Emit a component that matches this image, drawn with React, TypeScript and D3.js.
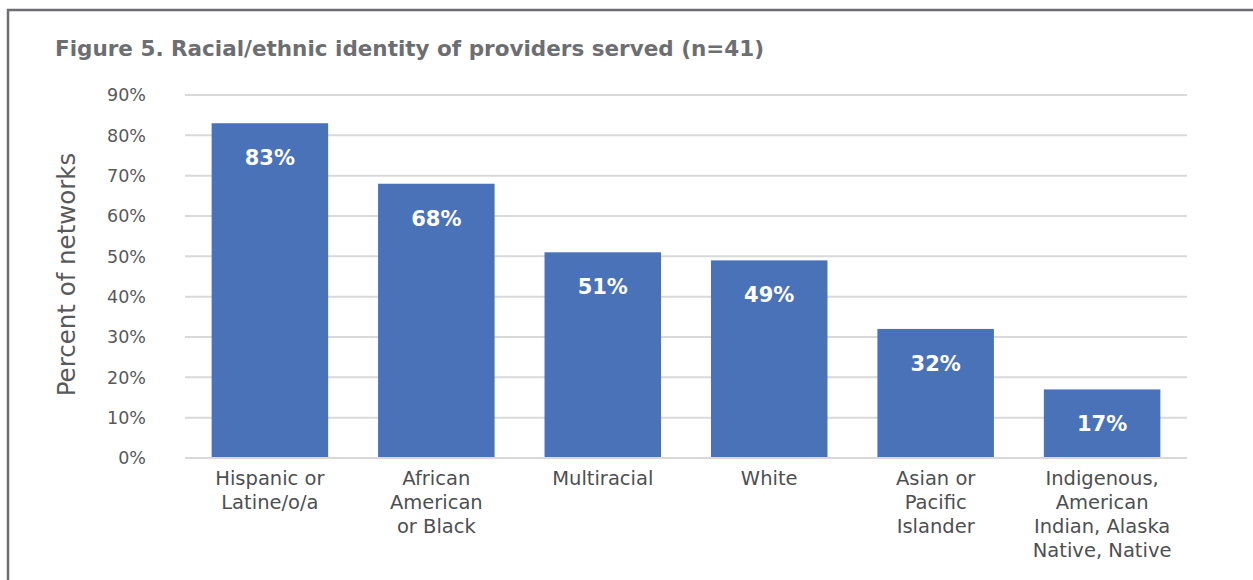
import React from "react";
import * as d3 from "d3";

const categories = [
  ["Hispanic or", "Latine/o/a"],
  ["African", "American", "or Black"],
  ["Multiracial"],
  ["White"],
  ["Asian or", "Pacific", "Islander"],
  ["Indigenous,", "American", "Indian, Alaska", "Native, Native"],
];
const values = [83, 68, 51, 49, 32, 17];
const yTicks = [0, 10, 20, 30, 40, 50, 60, 70, 80, 90];
const title = "Figure 5. Racial/ethnic identity of providers served (n=41)";
const yTitle = "Percent of networks";

export default function App() {
  const W = 1253, H = 580;
  const left = 185, right = 1187, top = 95, bottom = 458;
  const x = d3.scaleBand<number>().domain(d3.range(values.length)).range([left, right]).paddingInner(0.3).paddingOuter(0.16);
  const y = d3.scaleLinear().domain([0, 90]).range([bottom, top]);
  const font = "'DejaVu Sans', sans-serif";
  return (
    <svg width={W} height={H} style={{ position: "absolute", left: 0, top: 0 }} fontFamily={font}>
      <rect x={0} y={0} width={W} height={H} fill="#fff" />
      <path d={`M8,${H} V10 H${W}`} fill="none" stroke="#6d6e71" strokeWidth={2.5} />
      <text x={55} y={56} fontSize={21.5} fontWeight={700} fill="#6d6e71">{title}</text>
      {yTicks.map((t) => (
        <g key={t}>
          <line x1={left} x2={right} y1={y(t)} y2={y(t)} stroke="#d9d9d9" strokeWidth={2} />
          <text x={146} y={y(t)} dy="0.36em" textAnchor="end" fontSize={17.5} fill="#58595b">{t}%</text>
        </g>
      ))}
      <text transform={`translate(75,${(top + bottom) / 2 - 2}) rotate(-90)`} textAnchor="middle" fontSize={24.5} fill="#58595b">{yTitle}</text>
      {values.map((v, i) => (
        <g key={i}>
          <rect x={x(i)} y={y(v)} width={x.bandwidth()} height={bottom - y(v)} fill="#4a72b8" />
          <text x={(x(i) as number) + x.bandwidth() / 2} y={y(v) + 42} textAnchor="middle" fontSize={21} fontWeight={700} fill="#fff">{v}%</text>
        </g>
      ))}
      <line x1={left} x2={right} y1={bottom} y2={bottom} stroke="#d9d9d9" strokeWidth={2} />
      {categories.map((lines, i) => (
        <text key={i} x={(x(i) as number) + x.bandwidth() / 2} y={485} textAnchor="middle" fontSize={19.5} fill="#4d4f51">
          {lines.map((l, j) => (
            <tspan key={j} x={(x(i) as number) + x.bandwidth() / 2} dy={j === 0 ? 0 : 24}>{l}</tspan>
          ))}
        </text>
      ))}
    </svg>
  );
}
